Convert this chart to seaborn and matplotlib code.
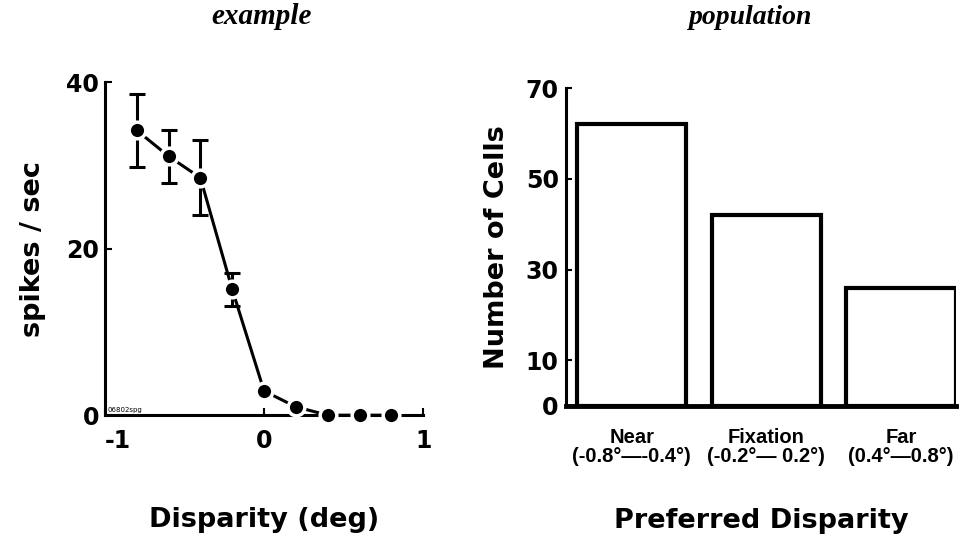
import numpy as np
import pandas as pd
import matplotlib
matplotlib.use("Agg")
import matplotlib.pyplot as plt
import seaborn as sns

sns.set_theme(style="ticks")
plt.rcParams['font.family'] = ['DejaVu Sans']
plt.rcParams['font.weight'] = 'bold'
for k in ["text.color", "axes.labelcolor", "xtick.color", "ytick.color", "axes.edgecolor"]:
    plt.rcParams[k] = "black"

# Left panel data (example cell)
disparity = [-0.8, -0.6, -0.4, -0.2, 0.0, 0.2, 0.4, 0.6, 0.8]
rate = [34.2, 31.1, 28.5, 15.1, 2.9, 1.0, 0.0, 0.0, 0.0]
rate_err = [4.4, 3.2, 4.5, 2.0, 0.0, 0.0, 0.0, 0.0, 0.0]
left_yticks = [0, 20, 40]
left_xticks = [-1, 0, 1]
left_xticklabels = ["-1", "0", "1"]

# Right panel data (population)
categories = ["Near\n(-0.8°—-0.4°)", "Fixation\n(-0.2°— 0.2°)", "Far\n(0.4°—0.8°)"]
cell_counts = [62, 42, 26]
right_yticks = [0, 10, 30, 50, 70]

fig = plt.figure(figsize=(9.62, 5.47), dpi=100)
ax1 = fig.add_axes([0.109, 0.241, 0.331, 0.609])
ax2 = fig.add_axes([0.588, 0.258, 0.406, 0.581])

LABEL_FS = 19.5
TICK_FS = 17

# ---- Left panel
df1 = pd.DataFrame({"disparity": disparity, "rate": rate, "err": rate_err})
err_mask = df1["err"] > 0
ax1.errorbar(df1.loc[err_mask, "disparity"], df1.loc[err_mask, "rate"],
             yerr=df1.loc[err_mask, "err"], fmt="none", ecolor="black",
             elinewidth=2.2, capsize=6, capthick=2.2, zorder=2)
sns.lineplot(data=df1, x="disparity", y="rate", ax=ax1, color="black",
             linewidth=2.2, marker="o", markersize=12, markerfacecolor="black",
             markeredgecolor="white", markeredgewidth=2.5, zorder=3, clip_on=False)
ax1.set_xlim(-1, 1)
ax1.set_ylim(0, 40)
ax1.set_xticks(left_xticks)
ax1.set_xticklabels(left_xticklabels)
ax1.set_yticks(left_yticks)
ax1.tick_params(axis="y", direction="in", length=5, width=1.5, labelsize=TICK_FS, pad=4)
ax1.tick_params(axis="x", direction="in", length=5, width=1.5, labelsize=TICK_FS, pad=10)
xl = ax1.get_xticklabels()
xl[0].set_horizontalalignment("left")
for s in ["top", "right"]:
    ax1.spines[s].set_visible(False)
for s in ["left", "bottom"]:
    ax1.spines[s].set_linewidth(2.2)
ax1.set_xlabel("Disparity (deg)", fontsize=LABEL_FS, fontweight="bold")
ax1.xaxis.set_label_coords(0.5, -0.315)
ax1.xaxis.label.set_verticalalignment("center")
ax1.set_ylabel("spikes / sec", fontsize=LABEL_FS, fontweight="bold")
ax1.yaxis.set_label_coords(-0.226, 0.5)
ax1.yaxis.label.set_verticalalignment("center")
ax1.text(-0.985, 0.3, "06802spg", fontsize=5, fontweight="normal", va="bottom")

# ---- Right panel
df2 = pd.DataFrame({"category": categories, "count": cell_counts})
sns.barplot(data=df2, x="category", y="count", ax=ax2, color="white",
            edgecolor="black", linewidth=3.0, width=0.81, saturation=1)
ax2.set_xlim(-0.49, 2.41)
ax2.set_ylim(0, 70)
ax2.set_yticks(right_yticks)
ax2.tick_params(axis="y", direction="in", length=4, width=1.5, labelsize=TICK_FS, pad=5)
ax2.tick_params(axis="x", length=0, pad=16)
for lab in ax2.get_xticklabels():
    lab.set_fontfamily("Liberation Sans")
    lab.set_fontsize(14.5)
    lab.set_fontweight("bold")
    lab.set_linespacing(1.0)
for s in ["top", "right"]:
    ax2.spines[s].set_visible(False)
ax2.spines["left"].set_linewidth(2.2)
ax2.spines["bottom"].set_linewidth(3.5)
ax2.set_xlabel("Preferred Disparity", fontsize=LABEL_FS, fontweight="bold")
ax2.xaxis.set_label_coords(0.5, -0.361)
ax2.xaxis.label.set_verticalalignment("center")
ax2.set_ylabel("Number of Cells", fontsize=LABEL_FS, fontweight="bold")
ax2.yaxis.set_label_coords(-0.177, 0.5)
ax2.yaxis.label.set_verticalalignment("center")

# Panel titles
fig.text(262 / 962, 1 - 17 / 547, "example", fontsize=21, fontweight="bold",
         style="italic", family="Liberation Serif", ha="center", va="center")
fig.text(751 / 962, 1 - 18 / 547, "population", fontsize=20, fontweight="bold",
         style="italic", family="Liberation Serif", ha="center", va="center")

fig.savefig("out.png", dpi=100, facecolor="white")
